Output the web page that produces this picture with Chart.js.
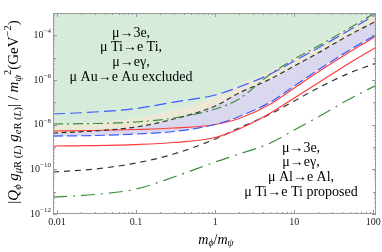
<!DOCTYPE html>
<html>
<head>
<meta charset="utf-8">
<script src="https://cdn.jsdelivr.net/npm/chart.js@4.4.1/dist/chart.umd.min.js"></script>
<style>
  html, body { margin: 0; padding: 0; background: #fff; }
  canvas { display: block; }
</style>
</head>
<body>
<canvas id="chart" width="382" height="252"></canvas>
<script>
// m_phi / m_psi sample points
const massRatio = [0.0089, 0.03, 0.1, 0.3, 1, 2, 5, 10, 20, 50, 110];

// edge of the currently excluded (green) region
const excludedEdge = [8.71e-9, 1.19e-8, 1.99e-8, 4.53e-8, 1.73e-7, 5.97e-7, 2.53e-6, 9.66e-6, 3.69e-5, 2.36e-4, 1.23e-3];
// blue long dashes (upper)
const blueUpper = [3.00e-8, 3.69e-8, 5.28e-8, 1.03e-7, 2.13e-7, 4.85e-7, 1.85e-6, 7.08e-6, 2.71e-5, 1.73e-4, 9.02e-4];
// green dash-dot (upper)
const greenUpper = [1.07e-8, 1.13e-8, 1.32e-8, 1.99e-8, 5.02e-8, 1.41e-7, 1.85e-6, 8.71e-6, 3.33e-5, 2.13e-4, 1.11e-3];
// black dashes (upper)
const blackUpper = [4.23e-9, 5.20e-9, 7.85e-9, 1.79e-8, 6.84e-8, 2.61e-7, 1.11e-6, 4.24e-6, 1.62e-5, 1.04e-4, 4.39e-4];
// blue dashes (lower)
const blueLower = [3.10e-9, 3.27e-9, 3.81e-9, 4.93e-9, 1.02e-8, 2.32e-8, 1.03e-7, 5.38e-7, 2.80e-6, 2.20e-5, 1.09e-4];
// red solid lines
const redUpper = [5.20e-9, 5.47e-9, 6.07e-9, 7.08e-9, 1.02e-8, 1.88e-8, 8.41e-8, 4.38e-7, 2.28e-6, 1.79e-5, 9.33e-5];
const redLower = [1.11e-9, 1.16e-9, 1.29e-9, 1.59e-9, 2.66e-9, 6.38e-9, 3.33e-8, 1.56e-7, 7.33e-7, 5.77e-6, 3.00e-5];
// proposed sensitivities
const blackLower = [7.59e-11, 1.03e-10, 1.92e-10, 4.85e-10, 2.28e-9, 7.08e-9, 3.00e-8, 1.15e-7, 4.38e-7, 2.06e-6, 5.77e-6];
const greenLower = [5.75e-12, 7.45e-12, 1.31e-11, 4.53e-11, 2.12e-10, 4.85e-10, 1.51e-9, 5.75e-9, 2.20e-8, 1.41e-7, 5.97e-7];

const xTicks = [0.01, 0.1, 1, 10, 100];
const xTickLabels = ['0.01', '0.1', '1', '10', '100'];
const yTickExps = [-4, -6, -8, -10, -12];

const excludedText = ['\u03bc\u21923e,', '\u03bc Ti\u2192e Ti,', '\u03bc\u2192e\u03b3,', '\u03bc Au\u2192e Au excluded'];
const proposedText = ['\u03bc\u21923e,', '\u03bc\u2192e\u03b3,', '\u03bc Al\u2192e Al,', '\u03bc Ti\u2192e Ti proposed'];

const SERIF = '"Liberation Serif", "DejaVu Serif", serif';
const pts = arr => arr.map((v, i) => ({ x: massRatio[i], y: v }));

function curve(data, color, dash, extra) {
  return Object.assign({
    data: pts(data),
    borderColor: color,
    borderWidth: 1.2,
    borderDash: dash,
    pointRadius: 0,
    fill: false,
    cubicInterpolationMode: 'monotone'
  }, extra || {});
}

// text with sub/superscripts; parts are strings or {t, it, s}
function rich(ctx, parts, size, x, y, align) {
  let w = 0;
  const items = parts.map(p => {
    if (typeof p === 'string') p = { t: p };
    const sz = p.s ? size * 0.7 : size;
    const font = (p.it ? 'italic ' : '') + sz + 'px ' + SERIF;
    ctx.font = font;
    const tw = ctx.measureText(p.t).width;
    const dy = p.s === -1 ? size * 0.25 : p.s === 1 ? -size * 0.38 : 0;
    w += tw;
    return { font, t: p.t, w: tw, dy };
  });
  let cx = align === 'right' ? x - w : align === 'left' ? x : x - w / 2;
  ctx.textAlign = 'left';
  ctx.textBaseline = 'middle';
  items.forEach(it => {
    ctx.font = it.font;
    ctx.fillText(it.t, cx, y + it.dy);
    cx += it.w;
  });
}

const framePlugin = {
  id: 'frame',
  afterDraw(chart) {
    const { ctx, chartArea: a, scales: { x, y } } = chart;
    ctx.save();
    ctx.strokeStyle = '#999';
    ctx.lineWidth = 1;
    ctx.strokeRect(a.left + 0.5, a.top + 0.5, a.right - a.left - 1, a.bottom - a.top - 1);

    const seg = (x1, y1, x2, y2) => { ctx.beginPath(); ctx.moveTo(x1, y1); ctx.lineTo(x2, y2); ctx.stroke(); };
    for (let e = -3; e <= 2; e++) {
      for (let m = 1; m <= 9; m++) {
        const v = m * Math.pow(10, e);
        if (v < x.min || v > x.max) continue;
        const px = Math.round(x.getPixelForValue(v)) + 0.5;
        const len = m === 1 ? 4 : 2;
        seg(px, a.bottom, px, a.bottom - len);
        seg(px, a.top, px, a.top + len);
      }
    }
    for (let e = -12; e <= -3; e++) {
      for (let m = 1; m <= 9; m++) {
        const v = m * Math.pow(10, e);
        if (v < y.min * 0.999 || v > y.max * 1.001) continue;
        const py = Math.round(y.getPixelForValue(v)) + 0.5;
        const len = m === 1 ? (e % 2 === 0 ? 4 : 3) : 1.5;
        seg(a.left, py, a.left + len, py);
        seg(a.right, py, a.right - len, py);
      }
    }

    ctx.fillStyle = '#222';
    xTicks.forEach((v, i) => rich(ctx, [xTickLabels[i]], 10, x.getPixelForValue(v), a.bottom + 8, 'center'));
    yTickExps.forEach(e => rich(ctx, ['10', { t: '\u2212' + (-e), s: 1 }], 10, a.left - 2, y.getPixelForValue(Math.pow(10, e)), 'right'));

    ctx.fillStyle = '#000';
    rich(ctx, [{ t: 'm', it: 1 }, { t: '\u03d5', it: 1, s: -1 }, '/', { t: 'm', it: 1 }, { t: '\u03c8', it: 1, s: -1 }], 14, 216, 240, 'center');

    ctx.save();
    ctx.translate(14, 112);
    ctx.rotate(-Math.PI / 2);
    rich(ctx, ['|', { t: 'Q', it: 1 }, { t: '\u03d5', it: 1, s: -1 }, ' ', { t: 'g', it: 1 },
      { t: '\u03bc', it: 1, s: -1 }, { t: 'R (', s: -1 }, { t: 'L', it: 1, s: -1 }, { t: ')', s: -1 }, ' ',
      { t: 'g', it: 1 }, { t: 'e', it: 1, s: -1 }, { t: 'R (', s: -1 }, { t: 'L', it: 1, s: -1 }, { t: ')', s: -1 },
      '| / ', { t: 'm', it: 1 }, { t: '\u03c8', it: 1, s: -1 }, { t: '2', s: 1 }, '(GeV', { t: '\u22122', s: 1 }, ')'],
      15, 0, 0, 'center');
    ctx.restore();

    excludedText.forEach((t, i) => rich(ctx, [t], 14, 131, 33 + i * 14.8, 'center'));
    proposedText.forEach((t, i) => rich(ctx, [t], 14, 301, 148 + i * 14.8, 'center'));
    ctx.restore();
  }
};

new Chart(document.getElementById('chart'), {
  type: 'line',
  data: {
    datasets: [
      curve(excludedEdge, 'rgba(0,0,0,0)', [], { borderWidth: 0, fill: 'end', backgroundColor: '#d7ebda' }),
      curve(excludedEdge, 'rgba(0,0,0,0)', [], { borderWidth: 0, fill: 4, backgroundColor: '#ebe8d5' }),
      curve(blueUpper, '#3a5cff', [12, 5]),
      curve(greenUpper, '#3d8c3d', [10, 4, 2, 4]),
      curve(blackUpper, '#333333', [5, 3.5], { fill: 5, backgroundColor: '#d9d8ef' }),
      curve(blueLower, '#3a5cff', [10, 4]),
      curve(redUpper, '#ff3b3b', []),
      curve(redLower, '#ff3b3b', []),
      curve(blackLower, '#333333', [6, 5]),
      curve(greenLower, '#3d8c3d', [14, 6, 2, 6])
    ]
  },
  options: {
    responsive: false,
    animation: false,
    layout: { padding: { left: 53, right: 6, top: 13, bottom: 38 } },
    scales: {
      x: { type: 'logarithmic', min: 0.0089, max: 108, display: false },
      y: { type: 'logarithmic', min: 1e-12, max: 1e-3, display: false }
    },
    plugins: {
      legend: { display: false },
      tooltip: { enabled: false },
      filler: { drawTime: 'beforeDatasetsDraw' }
    }
  },
  plugins: [framePlugin]
});
</script>
</body>
</html>
